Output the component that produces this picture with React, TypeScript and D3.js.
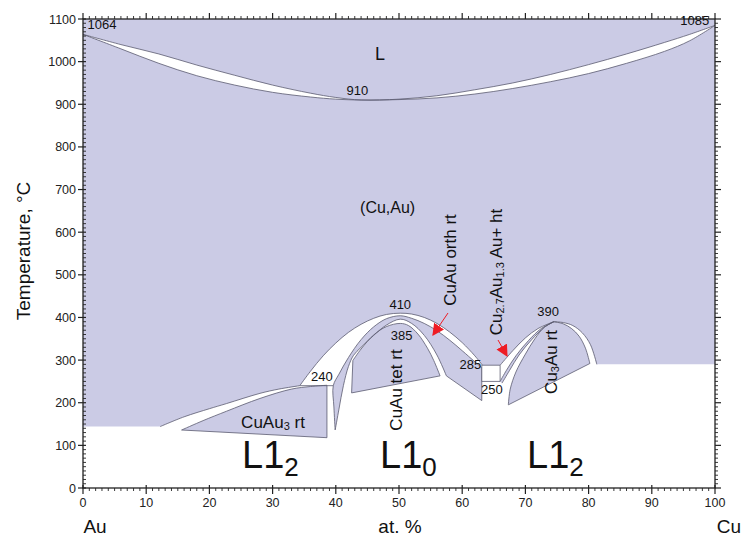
import React from "react";
import * as d3 from "d3";

// ---------- data (x in at.% Cu, T in °C) ----------
const liquidus: [number, number][] = [[0,1064],[6,1040],[12,1018],[18,992],[24,968],[30,945],[36,926],[40,916],[44,910],[50,912],[56,920],[62,934],[68,950],[74,970],[80,993],[86,1018],[92,1045],[96,1064],[100,1085]];
const solidus: [number, number][] = [[0,1064],[6,1030],[12,996],[18,967],[24,945],[30,928],[36,917],[40,912],[44,910],[50,911],[56,915],[62,924],[68,937],[74,953],[80,972],[86,996],[92,1024],[96,1049],[100,1085]];

// lower boundary of (Cu,Au) toward CuAu3 two-phase band
const curveG: [number, number][] = [[12.2,144],[16,167],[20,186],[22.7,198],[28,222],[31,232],[34.3,240]];
// CuAu3 rt upper boundary
const curveH: [number, number][] = [[15.6,136],[19,158],[22.7,180],[28,210],[33,232],[36,238],[38.6,241]];
const cuau3Bottom: [number, number][] = [[38.6,241],[38.6,118],[15.6,136]];

// CuAu dome
const archA: [number, number][] = [[34.3,240],[36,274],[38,310],[40,340],[42,365],[44,384],[46,398],[48,407],[50.2,410],[52,408],[54,400],[56,386],[58,366],[60,341],[62,310],[63.2,288]];
const archB: [number, number][] = [[39.9,136],[39.7,190],[39.6,240],[40.5,267],[42,306],[44,348],[46,378],[48,397],[50.2,404],[52,398],[54,386],[56,369],[58,347],[60,322],[62,296],[63.1,282]];
const archC: [number, number][] = [[39.9,136],[40.5,185],[41.2,240],[42,285],[42.8,311],[44,330],[46,358],[48,382],[50.2,396],[52,386],[54,358],[56,312],[57.5,263]];
const archD: [number, number][] = [[42.7,299],[44,326],[46,359],[48,378.5],[50.2,386],[51.5,381],[53,361],[54.5,328],[55.5,299],[56.5,263]];
const tetBottom: [number, number][] = [[56.5,263],[42.5,223],[42.7,299]];
const orthRight: [number, number][] = [[63.1,282],[63.1,205],[57.5,263]];
const line240: [number, number][] = [[34.3,240],[39.6,240]];
const box285: [number, number][] = [[63.1,288],[66,288],[66,250],[63.1,250]];

// Cu3Au dome
const curveE1: [number, number][] = [[66,288],[68,322],[70,352],[72,374],[74.5,390]];
const curveE2: [number, number][] = [[66,250],[67,276],[68.5,310],[70.5,346],[72.5,374],[74.5,390]];
const curveE3: [number, number][] = [[66.3,246],[67.5,276],[69,312],[71,348],[73,377],[74.5,390]];
const curveE4: [number, number][] = [[67.3,195],[67.6,232],[68.5,272],[70,314],[71.5,350],[73,377],[74.5,390]];
const curveF1: [number, number][] = [[74.5,390],[76,388],[77.5,381],[79,364],[80.3,336],[81.3,290]];
const curveF2: [number, number][] = [[74.5,390],[76,385],[77.3,374],[78.5,356],[79.5,328],[80.2,292]];
const cu3auBottom: [number, number][] = [[80.2,292],[67.3,195]];

// axis ticks
const xMajor = [0,10,20,30,40,50,60,70,80,90,100];
const yMajor = [0,100,200,300,400,500,600,700,800,900,1000,1100];

// labels
const numLabels: { t: string; x: number; y: number }[] = [
  { t: "1064", x: 3.0, y: 1076 },
  { t: "1085", x: 96.8, y: 1087 },
  { t: "910", x: 43.4, y: 922 },
  { t: "410", x: 50.2, y: 420 },
  { t: "385", x: 50.4, y: 347 },
  { t: "240", x: 37.8, y: 251 },
  { t: "285", x: 61.3, y: 279 },
  { t: "250", x: 64.7, y: 221 },
  { t: "390", x: 73.6, y: 403 },
];

const W = 744, H = 539;
const x = d3.scaleLinear().domain([0, 100]).range([83, 715]);
const y = d3.scaleLinear().domain([0, 1100]).range([488, 19]);

const lineGen = d3.line<[number, number]>().x(d => x(d[0])).y(d => y(d[1])).curve(d3.curveCatmullRom.alpha(0.5));
const straight = d3.line<[number, number]>().x(d => x(d[0])).y(d => y(d[1]));

const rev = (a: [number, number][]) => a.slice().reverse();
const seg = (a: [number, number][], smooth = true) => (smooth ? lineGen(a) : straight(a)) as string;
const poly = (...parts: string[]) => parts.map((s, i) => (i ? s.replace(/^M/, "L") : s)).join("") + "Z";

const FILL = "#cbcbe5";
const STROKE = "#5a5a70";
const FONT = "'Liberation Sans', Arial, sans-serif";

export default function App() {
  const mainPoly = poly(
    seg([[0,144],[12.2,144]], false),
    seg(curveG),
    seg(archA),
    seg([[63.2,288],[66,288]], false),
    seg(curveE1),
    seg(curveF1),
    seg([[81.3,290],[100,290],[100,1085]], false),
    seg(rev(solidus)),
  );
  const lPoly = poly(seg([[0,1100],[100,1100],[100,1085]], false), seg(rev(liquidus)));
  const cuau3Poly = poly(seg(curveH), seg(cuau3Bottom, false));
  const orthPoly = poly(seg(archB), seg(orthRight, false), seg(rev(archC)));
  const tetPoly = poly(seg(archD), seg(tetBottom, false));
  const htPoly = poly(seg(curveE2), seg(rev(curveE3)));
  const cu3auPoly = poly(seg(curveE4), seg(curveF2), seg(cu3auBottom, false));

  const curves = [liquidus, solidus, curveG, curveH, archA, archB, archC, archD, curveE1, curveE2, curveE3, curveE4, curveF1, curveF2];
  const straights = [cuau3Bottom, tetBottom, orthRight, line240, cu3auBottom];

  const xMinor = d3.range(0, 101, 1).filter(v => v % 10 !== 0);
  const yMinor = d3.range(0, 1101, 10).filter(v => v % 100 !== 0);

  return (
    <svg width={W} height={H} style={{ position: "absolute", left: 0, top: 0, background: "#fff" }} fontFamily={FONT}>
      <defs>
        <marker id="arr" viewBox="0 0 10 10" refX="9" refY="5" markerWidth="12" markerHeight="12" markerUnits="userSpaceOnUse" orient="auto">
          <path d="M0,0 L10,5 L0,10 Z" fill="#ee1c24" />
        </marker>
      </defs>
      {/* regions */}
      <path d={lPoly} fill={FILL} />
      <path d={mainPoly} fill={FILL} />
      <path d={cuau3Poly} fill={FILL} />
      <path d={orthPoly} fill={FILL} />
      <path d={tetPoly} fill={FILL} />
      <path d={htPoly} fill={FILL} />
      <path d={cu3auPoly} fill={FILL} />
      {/* boundaries */}
      {curves.map((c, i) => <path key={"c" + i} d={seg(c)} fill="none" stroke={STROKE} strokeWidth={0.8} />)}
      {straights.map((c, i) => <path key={"s" + i} d={seg(c, false)} fill="none" stroke={STROKE} strokeWidth={0.8} />)}
      <path d={seg(box285, false) + "Z"} fill="#fff" stroke={STROKE} strokeWidth={0.8} />

      {/* axes frame */}
      <rect x={x(0)} y={y(1100)} width={x(100) - x(0)} height={y(0) - y(1100)} fill="none" stroke="#222" strokeWidth={1.3} />
      {xMajor.map(v => <line key={"xb" + v} x1={x(v)} x2={x(v)} y1={y(0) - 3} y2={y(0) + 6} stroke="#222" strokeWidth={1.2} />)}
      {xMinor.map(v => <line key={"xbm" + v} x1={x(v)} x2={x(v)} y1={y(0)} y2={y(0) + 3} stroke="#222" strokeWidth={0.9} />)}
      {xMajor.map(v => <line key={"xt" + v} x1={x(v)} x2={x(v)} y1={y(1100)} y2={y(1100) - 6} stroke="#222" strokeWidth={1.2} />)}
      {xMinor.map(v => <line key={"xtm" + v} x1={x(v)} x2={x(v)} y1={y(1100)} y2={y(1100) - 3} stroke="#222" strokeWidth={0.9} />)}
      {yMajor.map(v => <line key={"yl" + v} x1={x(0) - 5} x2={x(0) + 3} y1={y(v)} y2={y(v)} stroke="#222" strokeWidth={1.2} />)}
      {yMinor.map(v => <line key={"ylm" + v} x1={x(0)} x2={x(0) + 3} y1={y(v)} y2={y(v)} stroke="#222" strokeWidth={0.9} />)}
      {yMajor.map(v => <line key={"yr" + v} x1={x(100)} x2={x(100) + 6} y1={y(v)} y2={y(v)} stroke="#222" strokeWidth={1.2} />)}
      {yMinor.map(v => <line key={"yrm" + v} x1={x(100)} x2={x(100) + 3} y1={y(v)} y2={y(v)} stroke="#222" strokeWidth={0.9} />)}

      {xMajor.map(v => <text key={"xl" + v} x={x(v)} y={y(0) + 19} textAnchor="middle" fontSize={12.5} fill="#222">{v}</text>)}
      {yMajor.map(v => <text key={"yll" + v} x={x(0) - 7} y={y(v) + 4.5} textAnchor="end" fontSize={12.5} fill="#222">{v}</text>)}

      <text x={95} y={533} textAnchor="middle" fontSize={19} fill="#111">Au</text>
      <text x={400} y={533} textAnchor="middle" fontSize={19} fill="#111">at. %</text>
      <text x={729} y={533} textAnchor="middle" fontSize={19} fill="#111">Cu</text>
      <text transform="translate(30,251) rotate(-90)" textAnchor="middle" fontSize={19} fill="#111">Temperature, °C</text>

      {numLabels.map((d, i) => <text key={"n" + i} x={x(d.x)} y={y(d.y)} textAnchor="middle" fontSize={13} fill="#111">{d.t}</text>)}

      <text x={x(47)} y={y(1004)} textAnchor="middle" fontSize={18} fill="#111">L</text>
      <text x={x(48.2)} y={y(646)} textAnchor="middle" fontSize={16} fill="#111">(Cu,Au)</text>
      <text x={273} y={428} textAnchor="middle" fontSize={17} fill="#111">CuAu<tspan fontSize={11} dy={2}>3</tspan><tspan dy={-2}> rt</tspan></text>
      <text transform="translate(402,390) rotate(-90)" textAnchor="middle" fontSize={17} fill="#111">CuAu tet rt</text>
      <text transform="translate(456,260) rotate(-90)" textAnchor="middle" fontSize={17} fill="#111">CuAu orth rt</text>
      <text transform="translate(502,272) rotate(-90)" textAnchor="middle" fontSize={17} fill="#111">Cu<tspan fontSize={11} dy={2}>2.7</tspan><tspan dy={-2}>Au</tspan><tspan fontSize={11} dy={2}>1.3</tspan><tspan dy={-2}> Au+ ht</tspan></text>
      <text transform="translate(557,362) rotate(-90)" textAnchor="middle" fontSize={17} fill="#111">Cu<tspan fontSize={11} dy={2}>3</tspan><tspan dy={-2}>Au rt</tspan></text>

      <text x={242} y={468} fontSize={38} fill="#111">L1<tspan fontSize={26} dy={8}>2</tspan></text>
      <text x={380} y={468} fontSize={38} fill="#111">L1<tspan fontSize={26} dy={8}>0</tspan></text>
      <text x={527} y={468} fontSize={38} fill="#111">L1<tspan fontSize={26} dy={8}>2</tspan></text>

      <line x1={448} y1={313} x2={433} y2={335} stroke="#ee1c24" strokeWidth={1} markerEnd="url(#arr)" />
      <line x1={498} y1={340} x2={507} y2={356} stroke="#ee1c24" strokeWidth={1} markerEnd="url(#arr)" />
    </svg>
  );
}
